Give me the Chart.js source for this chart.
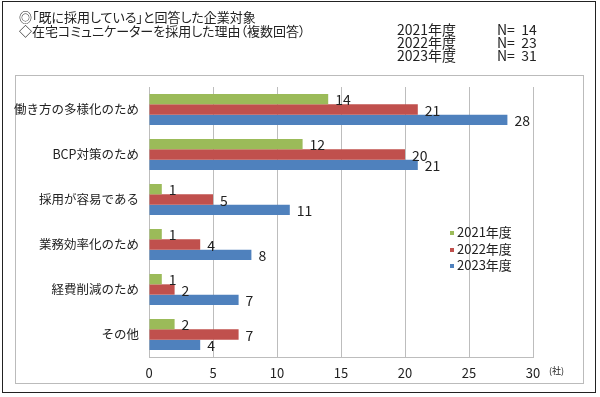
<!DOCTYPE html>
<html>
<head>
<meta charset="utf-8">
<script src="https://cdn.jsdelivr.net/npm/chart.js@4"></script>
<style>
  body { margin:0; background:#fff; font-family:"Noto Sans CJK JP", sans-serif; }
  #wrap { position:relative; width:600px; height:397px; }
  #outer { position:absolute; left:2px; top:1px; width:594px; height:392px; border:1.5px solid #222; box-sizing:border-box; }
  #inner { position:absolute; left:15px; top:75px; width:569px; height:309px; border:1.5px solid #bbb; box-sizing:border-box; }
  .txt { position:absolute; color:#222; font-size:13px; line-height:14px; white-space:nowrap; font-feature-settings:"palt"; }
  #legend { position:absolute; left:450px; top:224px; font-size:13px; line-height:16.5px; color:#222; }
  #legend span.sw { display:inline-block; width:4px; height:4px; margin-right:3px; vertical-align:middle; }
  canvas { position:absolute; left:0; top:0; }
</style>
</head>
<body>
<div id="wrap">
  <div id="outer"></div>
  <div id="inner"></div>
  <canvas id="myChart" width="600" height="397"></canvas>
  <div class="txt" style="left:19px;top:10px;">◎「既に採用している」と回答した企業対象</div>
  <div class="txt" style="left:19px;top:24px;">◇在宅コミュニケーターを採用した理由（複数回答）</div>
  <div class="txt" style="left:397px;top:23px;font-size:14px;line-height:13px;">2021年度<br>2022年度<br>2023年度</div>
  <div class="txt" style="left:497px;top:23px;font-size:14px;line-height:13px;">N=&nbsp;&nbsp;14<br>N=&nbsp;&nbsp;23<br>N=&nbsp;&nbsp;31</div>
  <div class="txt" style="left:549px;top:364px;font-size:9px;">(社)</div>
  <div id="legend"></div>
</div>
<script>
var categories = ['働き方の多様化のため', 'BCP対策のため', '採用が容易である', '業務効率化のため', '経費削減のため', 'その他'];
var seriesNames = ['2021年度', '2022年度', '2023年度'];
var values2021 = [14, 12, 1, 1, 1, 2];
var values2022 = [21, 20, 5, 4, 2, 7];
var values2023 = [28, 21, 11, 8, 7, 4];
var xTicks = [0, 5, 10, 15, 20, 25, 30];
var colors = ['#9BBB59', '#C0504D', '#4F81BD'];

var font = '"Noto Sans CJK JP", sans-serif';

var legendBox = document.getElementById('legend');
seriesNames.forEach(function(name, i) {
    legendBox.innerHTML += '<div><span class="sw" style="background:' + colors[i] + '"></span>' + name + '</div>';
});

// numbers at the end of each bar
var barLabels = {
    id: 'barLabels',
    afterDatasetsDraw: function(chart) {
        var ctx = chart.ctx;
        ctx.save();
        ctx.font = '14px ' + font;
        ctx.fillStyle = '#222';
        ctx.textAlign = 'left';
        ctx.textBaseline = 'middle';
        chart.data.datasets.forEach(function(ds, i) {
            chart.getDatasetMeta(i).data.forEach(function(bar, j) {
                ctx.fillText(ds.data[j], bar.x + 7, bar.y + 1);
            });
        });
        ctx.restore();
    }
};

var ctx = document.getElementById('myChart').getContext('2d');
var myChart = new Chart(ctx, {
    type: 'bar',
    data: {
        labels: categories,
        datasets: [
            { label: seriesNames[0], data: values2021, backgroundColor: colors[0] },
            { label: seriesNames[1], data: values2022, backgroundColor: colors[1] },
            { label: seriesNames[2], data: values2023, backgroundColor: colors[2] }
        ]
    },
    options: {
        indexAxis: 'y',
        responsive: false,
        animation: false,
        layout: { padding: { left: 0, top: 87, right: 67, bottom: 0 } },
        datasets: { bar: { categoryPercentage: 0.69, barPercentage: 1.0 } },
        plugins: { legend: { display: false }, tooltip: { enabled: false } },
        scales: {
            x: {
                min: 0, max: 30,
                afterBuildTicks: function(scale) {
                    scale.ticks = xTicks.map(function(v) { return { value: v }; });
                },
                afterFit: function(scale) { scale.height = 40; },
                grid: { color: '#bdbdbd', drawTicks: false },
                border: { color: '#bdbdbd' },
                ticks: { color: '#222', padding: 8, font: { size: 13, family: font } }
            },
            y: {
                afterFit: function(scale) { scale.width = 149; },
                grid: { display: false, drawTicks: false },
                border: { color: '#bdbdbd' },
                ticks: { color: '#222', padding: 10, font: { size: 12.5, family: font } }
            }
        }
    },
    plugins: [barLabels]
});
</script>
</body>
</html>
